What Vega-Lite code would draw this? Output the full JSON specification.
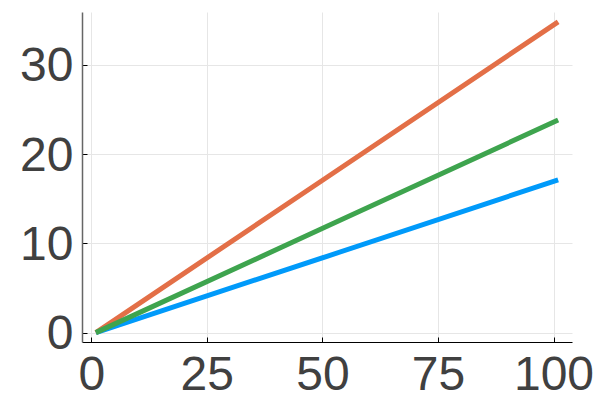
{
  "$schema": "https://vega.github.io/schema/vega-lite/v6.json",
  "width": 490,
  "height": 330,
  "autosize": {"type": "none"},
  "padding": {"left": 82, "top": 12, "right": 28, "bottom": 58},
  "background": "white",
  "config": {"view": {"stroke": null}},
  "data": {"values": [
    {"x": 1, "y": 0, "s": "y1"},
    {"x": 51, "y": 8.55, "s": "y1"},
    {"x": 101, "y": 17.1, "s": "y1"},
    {"x": 1, "y": 0, "s": "y2"},
    {"x": 51, "y": 17.4, "s": "y2"},
    {"x": 101, "y": 34.8, "s": "y2"},
    {"x": 1, "y": 0, "s": "y3"},
    {"x": 51, "y": 11.9, "s": "y3"},
    {"x": 101, "y": 23.8, "s": "y3"}
  ]},
  "mark": {"type": "line", "strokeWidth": 5, "clip": false},
  "encoding": {
    "x": {
      "field": "x", "type": "quantitative",
      "scale": {"domain": [-2, 104], "nice": false, "zero": false},
      "axis": {
        "title": null, "values": [0, 25, 50, 75, 100],
        "labelFont": "Liberation Sans", "labelFontSize": 48, "labelColor": "#404040",
        "domainColor": "#000000", "domainWidth": 1,
        "tickColor": "#000000", "tickSize": -5, "tickWidth": 1,
        "labelPadding": 14, "labelFlush": false, "labelOverlap": false,
        "gridColor": "#e6e6e6", "gridWidth": 1
      }
    },
    "y": {
      "field": "y", "type": "quantitative",
      "scale": {"domain": [-1.05, 35.9], "nice": false, "zero": false},
      "axis": {
        "title": null, "values": [0, 10, 20, 30],
        "labelFont": "Liberation Sans", "labelFontSize": 48, "labelColor": "#404040",
        "domainColor": "#666666", "domainWidth": 1.5,
        "tickColor": "#000000", "tickSize": -5, "tickWidth": 1,
        "labelPadding": 14, "labelFlush": false, "labelOverlap": false,
        "labelOffset": 2,
        "gridColor": "#e6e6e6", "gridWidth": 1
      }
    },
    "color": {
      "field": "s", "type": "nominal",
      "scale": {"domain": ["y1", "y2", "y3"], "range": ["#009AFA", "#E36F47", "#3EA44E"]},
      "legend": null
    },
    "order": {"field": "x", "type": "quantitative"}
  }
}
